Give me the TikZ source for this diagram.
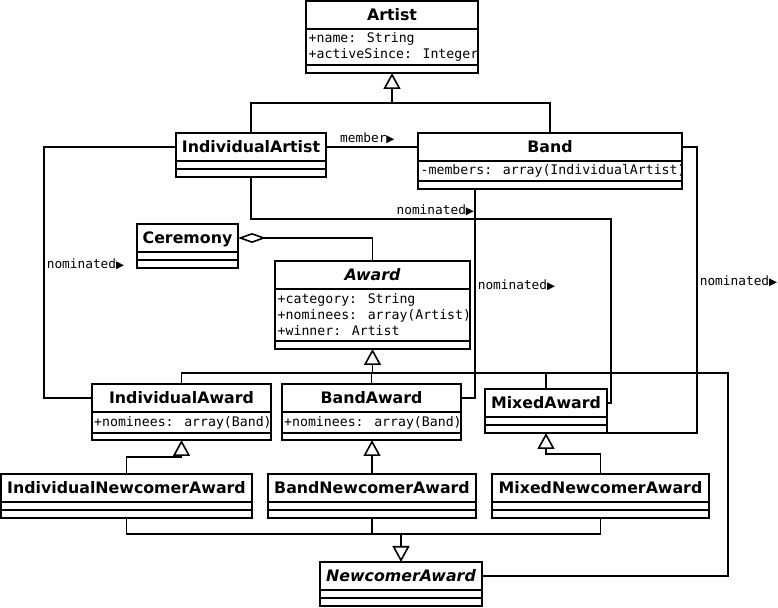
\documentclass[tikz,border=0pt]{standalone}
\usepackage{fontspec}
\usetikzlibrary{arrows.meta,positioning,calc}
\newfontfamily\umlsans{DejaVu Sans}
\newfontfamily\umlmono{DejaVu Sans Mono}
\newcommand{\navdir}{{\umlsans\fontsize{10.5pt}{11pt}\selectfont ▶}}
\tikzset{
  umlname/.style={draw, line width=1.6pt, fill=white, outer sep=0pt, inner sep=0pt,
    anchor=north west, minimum height=28pt, text height=13pt, text depth=2pt,
    font=\umlsans\bfseries\fontsize{15.8pt}{18pt}\selectfont},
  abstractname/.style={umlname, font=\umlsans\bfseries\itshape\fontsize{15.8pt}{18pt}\selectfont},
  umlpart/.style={draw, line width=1.6pt, fill=white, outer sep=0pt, inner sep=0pt,
    minimum height=8pt},
  attrtext/.style={inner sep=0pt, align=left, font=\umlmono\fontsize{13.2pt}{16pt}\selectfont},
  assoclabel/.style={inner sep=2pt, font=\umlmono\fontsize{12.8pt}{14pt}\selectfont},
  umlline/.style={line width=1.6pt},
  genarrow/.style={umlline, -{Triangle[open, length=16pt, width=17pt]}},
  aggarrow/.style={umlline, {Diamond[open, length=28pt, width=10pt]}-}
}
\begin{document}
\begin{tikzpicture}[x=1pt, y=1pt]
  \useasboundingbox (0,0) rectangle (778,607);

  % classes
  \node[umlname, minimum width=172pt] (art) at (306,606) {Artist};
  \node[umlpart, minimum width=172pt, minimum height=36pt, below=0pt of art] (artA) {};
  \node[umlpart, minimum width=172pt, below=0pt of artA] (artM) {};
  \node[attrtext, right=2.5pt of artA.west] {+name: String\\+activeSince: Integer};

  \node[umlname, minimum width=150pt] (iart) at (176,474) {IndividualArtist};
  \node[umlpart, minimum width=150pt, below=0pt of iart] (iartA) {};
  \node[umlpart, minimum width=150pt, below=0pt of iartA] (iartM) {};

  \node[umlname, minimum width=264pt] (band) at (418,474) {Band};
  \node[umlpart, minimum width=264pt, minimum height=20pt, below=0pt of band] (bandA) {};
  \node[umlpart, minimum width=264pt, below=0pt of bandA] (bandM) {};
  \node[attrtext, right=2.5pt of bandA.west] {-members: array(IndividualArtist)};

  \node[umlname, minimum width=101pt] (cer) at (137,383) {Ceremony};
  \node[umlpart, minimum width=101pt, below=0pt of cer] (cerA) {};
  \node[umlpart, minimum width=101pt, below=0pt of cerA] (cerM) {};

  \node[abstractname, minimum width=195pt] (awd) at (275,346) {Award};
  \node[umlpart, minimum width=195pt, minimum height=52pt, below=0pt of awd] (awdA) {};
  \node[umlpart, minimum width=195pt, below=0pt of awdA] (awdM) {};
  \node[attrtext, right=2.5pt of awdA.west] {+category: String\\+nominees: array(Artist)\\+winner: Artist};

  \node[umlname, minimum width=179pt] (iawd) at (92,223) {IndividualAward};
  \node[umlpart, minimum width=179pt, minimum height=21pt, below=0pt of iawd] (iawdA) {};
  \node[umlpart, minimum width=179pt, minimum height=7pt, below=0pt of iawdA] (iawdM) {};
  \node[attrtext, right=2pt of iawdA.west] {+nominees: array(Band)};

  \node[umlname, minimum width=179pt] (bawd) at (282,223) {BandAward};
  \node[umlpart, minimum width=179pt, minimum height=21pt, below=0pt of bawd] (bawdA) {};
  \node[umlpart, minimum width=179pt, minimum height=7pt, below=0pt of bawdA] (bawdM) {};
  \node[attrtext, right=2pt of bawdA.west] {+nominees: array(Band)};

  \node[umlname, minimum width=122pt] (mawd) at (485,218) {MixedAward};
  \node[umlpart, minimum width=122pt, below=0pt of mawd] (mawdA) {};
  \node[umlpart, minimum width=122pt, below=0pt of mawdA] (mawdM) {};

  \node[umlname, minimum width=251pt] (inew) at (1,133) {IndividualNewcomerAward};
  \node[umlpart, minimum width=251pt, below=0pt of inew] (inewA) {};
  \node[umlpart, minimum width=251pt, below=0pt of inewA] (inewM) {};

  \node[umlname, minimum width=208pt] (bnew) at (268,133) {BandNewcomerAward};
  \node[umlpart, minimum width=208pt, below=0pt of bnew] (bnewA) {};
  \node[umlpart, minimum width=208pt, below=0pt of bnewA] (bnewM) {};

  \node[umlname, minimum width=217pt] (mnew) at (492,133) {MixedNewcomerAward};
  \node[umlpart, minimum width=217pt, below=0pt of mnew] (mnewA) {};
  \node[umlpart, minimum width=217pt, below=0pt of mnewA] (mnewM) {};

  \node[abstractname, minimum width=162pt] (nawd) at (320,45) {NewcomerAward};
  \node[umlpart, minimum width=162pt, below=0pt of nawd] (nawdA) {};
  \node[umlpart, minimum width=162pt, below=0pt of nawdA] (nawdM) {};

  % generalizations
  \coordinate (artjoin) at ([yshift=-30pt]artM.south);
  \draw[genarrow] (artjoin) -- (artM.south);
  \draw[umlline] (iart.north) |- (artjoin);
  \draw[umlline] (band.north) |- (artjoin);

  \coordinate (awdjoin) at ([yshift=-24pt]awdM.south);
  \draw[genarrow] (awdjoin) -- (awdM.south);
  \draw[umlline] (iawd.north) |- (awdjoin);
  \draw[umlline] (bawd.north) |- (awdjoin);
  \draw[umlline] (mawd.north) |- (awdjoin);
  \draw[umlline] (nawd.east) -- ++(246,0) |- (awdjoin);

  \draw[genarrow] (inew.north) -- ++(0,17) -| (iawdM.south);
  \draw[genarrow] (bnew.north) -- (bnew.north |- bawdM.south);
  \draw[genarrow] (mnew.north) -- ++(0,20) -| (mawdM.south);

  \coordinate (newjoin) at ([yshift=28pt]nawd.north);
  \draw[genarrow] (newjoin) -- (nawd.north);
  \foreach \c in {inewM,bnewM,mnewM}
    \draw[umlline] (\c.south) |- (newjoin);

  % associations
  \draw[aggarrow] (cer.east) -| (awd.north);
  \draw[umlline] (iart.east) -- node[assoclabel, above, pos=0.45] {member\navdir} (band.west);
  \draw[umlline] (iart.west) -- ++(-132,0) |- node[assoclabel, pos=0.233, right] {nominated\navdir} (iawd.west);
  \draw[umlline] (iartM.south) -- ++(0,-42) -| node[assoclabel, pos=0.256, above] {nominated\navdir} ([xshift=4pt]mawd.east) -- (mawd.east);
  \draw[umlline] ([xshift=-75pt]bandM.south) |- node[assoclabel, pos=0.23, right] {nominated\navdir} (bawd.east);
  \draw[umlline] (band.east) -- ++(15,0) |- node[assoclabel, pos=0.235, right] {nominated\navdir} (mawdM.south east);
\end{tikzpicture}
\end{document}
